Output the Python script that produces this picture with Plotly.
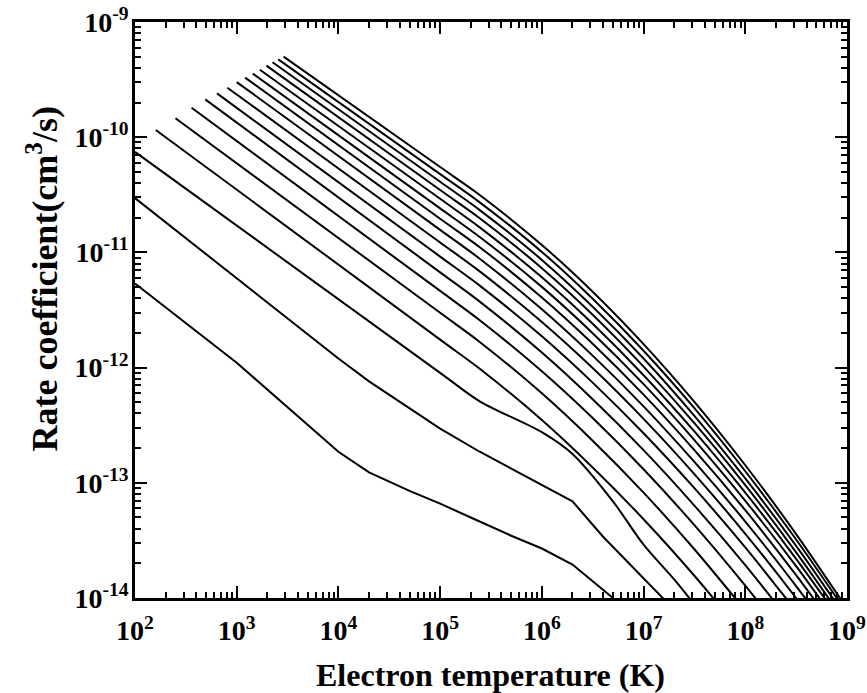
import plotly.graph_objects as go

# Electron temperature grid points (K) and rate coefficients (cm^3/s), lowest curves
temp_1 = [100, 1e3, 1e4, 2e4, 5e4, 1e5, 2e5, 5e5, 1e6, 2e6, 5e6, 1e7]
rate_1 = [5.37e-12, 1.10e-12, 1.86e-13, 1.23e-13, 8.5e-14, 6.6e-14, 5.0e-14, 3.47e-14, 2.69e-14, 1.95e-14, 1.0e-14, 5.6e-15]

temp_2 = [100, 1e3, 1e4, 2e4, 1e5, 2.45e5, 1e6, 2e6, 4e6, 1e7, 2e7]
rate_2 = [2.96e-11, 6.0e-12, 1.20e-12, 7.6e-13, 2.95e-13, 1.86e-13, 9.5e-14, 6.9e-14, 3.4e-14, 1.48e-14, 7.9e-15]

temp_3 = [100, 1e5, 2.45e5, 1e6, 2e6, 5e6, 1e7, 2e7, 3e7]
rate_3 = [7.45e-11, 9.0e-13, 5.1e-13, 2.75e-13, 1.78e-13, 6.9e-14, 2.9e-14, 1.45e-14, 9.3e-15]

# Upper curves: start temperature / rate, then values on the shared grid temp_hi
temp_hi = [1e5, 2.45e5, 1e6, 3.16e6, 1e7, 3.16e7, 1e8, 3.16e8, 1e9]
start_temp = [160, 250, 360, 490, 640, 810, 1000, 1210, 1440, 1690, 1960, 2250, 2560, 2890]
start_rate = [1.155e-10, 1.46e-10, 1.80e-10, 2.13e-10, 2.40e-10, 2.69e-10, 3.01e-10,
              3.29e-10, 3.56e-10, 3.85e-10, 4.18e-10, 4.47e-10, 4.74e-10, 5.00e-10]
rates_hi = [
    [1.75e-12, 9.77e-13, 3.51e-13, 1.36e-13, 4.83e-14, 1.56e-14, 4.58e-15],
    [2.99e-12, 1.67e-12, 5.98e-13, 2.32e-13, 8.22e-14, 2.65e-14, 7.78e-15],
    [4.63e-12, 2.58e-12, 9.29e-13, 3.65e-13, 1.31e-13, 4.29e-14, 1.28e-14, 3.53e-15],
    [6.71e-12, 3.74e-12, 1.35e-12, 5.31e-13, 1.92e-13, 6.34e-14, 1.93e-14, 5.36e-15],
    [9.20e-12, 5.15e-12, 1.87e-12, 7.41e-13, 2.69e-13, 8.98e-14, 2.75e-14, 7.69e-15],
    [1.22e-11, 6.84e-12, 2.49e-12, 9.91e-13, 3.59e-13, 1.19e-13, 3.61e-14, 1.00e-14, 2.54e-15],
    [1.57e-11, 8.81e-12, 3.21e-12, 1.27e-12, 4.61e-13, 1.52e-13, 4.61e-14, 1.27e-14, 3.21e-15],
    [1.96e-11, 1.11e-11, 4.06e-12, 1.61e-12, 5.82e-13, 1.92e-13, 5.78e-14, 1.58e-14, 3.96e-15],
    [2.41e-11, 1.36e-11, 5.02e-12, 1.99e-12, 7.18e-13, 2.35e-13, 6.98e-14, 1.89e-14, 4.62e-15],
    [2.92e-11, 1.65e-11, 6.08e-12, 2.40e-12, 8.59e-13, 2.79e-13, 8.20e-14, 2.19e-14, 5.30e-15],
    [3.48e-11, 1.98e-11, 7.30e-12, 2.88e-12, 1.02e-12, 3.29e-13, 9.53e-14, 2.49e-14, 5.87e-15],
    [4.10e-11, 2.33e-11, 8.61e-12, 3.38e-12, 1.20e-12, 3.81e-13, 1.09e-13, 2.83e-14, 6.59e-15],
    [4.78e-11, 2.72e-11, 1.01e-11, 3.96e-12, 1.40e-12, 4.44e-13, 1.26e-13, 3.22e-14, 7.40e-15],
    [5.51e-11, 3.15e-11, 1.16e-11, 4.56e-12, 1.60e-12, 5.04e-13, 1.42e-13, 3.59e-14, 8.11e-15],
]

x_decades = list(range(2, 10))
y_decades = list(range(-14, -8))
x_tick_vals = [10.0 ** k for k in x_decades]
x_tick_text = ["10<sup>%d</sup>" % k for k in x_decades]
y_tick_vals = [10.0 ** k for k in y_decades]
y_tick_text = ["10<sup>%d</sup>" % k for k in y_decades]
x_minor_vals = [m * 10.0 ** k for k in x_decades[:-1] for m in range(2, 10)]
y_minor_vals = [m * 10.0 ** k for k in y_decades[:-1] for m in range(2, 10)]

fig = go.Figure()
# the two lowest curves are drawn segment by segment, the rest smoothed
for tx, ry in [(temp_1, rate_1), (temp_2, rate_2)]:
    fig.add_trace(go.Scatter(x=tx, y=ry, mode="lines", showlegend=False,
                             line=dict(color="black", width=2)))
fig.add_trace(go.Scatter(x=temp_3, y=rate_3, mode="lines", showlegend=False,
                         line=dict(color="black", width=2, shape="spline", smoothing=0.9)))
for t0, r0, rh in zip(start_temp, start_rate, rates_hi):
    fig.add_trace(go.Scatter(x=[t0] + temp_hi[:len(rh)], y=[r0] + rh, mode="lines",
                             showlegend=False,
                             line=dict(color="black", width=2, shape="spline", smoothing=0.8)))

font_family = "Liberation Serif, Times New Roman, serif"
tick_font = dict(family=font_family, size=28, color="black", weight="bold")
title_font = dict(family=font_family, color="black", weight="bold")


def axis_style(minor_vals):
    return dict(
        type="log", showgrid=False, zeroline=False, automargin=False,
        showline=True, linecolor="black", linewidth=2.5, mirror="ticks",
        ticks="inside", ticklen=12, tickwidth=2, tickcolor="black",
        minor=dict(ticks="inside", ticklen=6, tickwidth=1.5, tickcolor="black",
                   showgrid=False, tickmode="array", tickvals=minor_vals),
        tickfont=tick_font,
    )


fig.update_layout(
    width=867, height=693,
    margin=dict(l=135, r=20, t=22, b=95),
    paper_bgcolor="white", plot_bgcolor="white",
    font=dict(family=font_family, color="black"),
    xaxis=dict(axis_style(x_minor_vals), range=[2, 9], tickmode="array",
               tickvals=x_tick_vals, ticktext=x_tick_text, ticklabelstandoff=6),
    yaxis=dict(axis_style(y_minor_vals), range=[-14, -9], tickmode="array",
               tickvals=y_tick_vals, ticktext=y_tick_text, ticklabelstandoff=-2),
    annotations=[
        dict(text="Electron temperature (K)",
             xref="paper", yref="paper", x=0.4986, y=-0.1337,
             xanchor="center", yanchor="middle", showarrow=False,
             font=dict(title_font, size=32)),
        dict(text="Rate coefficient(cm<sup>3</sup>/s)", textangle=-90,
             xref="paper", yref="paper", x=-0.1306, y=0.553,
             xanchor="center", yanchor="middle", showarrow=False,
             font=dict(title_font, size=36)),
    ],
)

fig.write_html("out.html")
